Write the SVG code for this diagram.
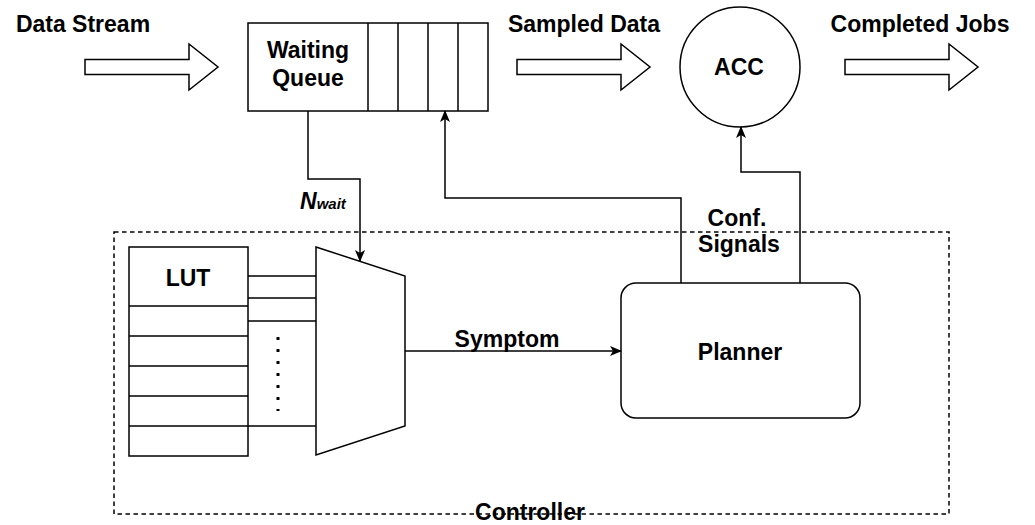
<svg xmlns="http://www.w3.org/2000/svg" width="1035" height="525" viewBox="0 0 1035 525">
  <style>
    .ln { fill: none; stroke: #000; stroke-width: 1.5; }
    .box { fill: #fff; stroke: #000; stroke-width: 1.5; }
    .lbl { font-family: "Liberation Sans", Arial, sans-serif; font-weight: bold; font-size: 23px; fill: #000; text-anchor: middle; }
    .sub { font-family: "Liberation Sans", Arial, sans-serif; font-weight: bold; font-style: italic; fill: #000; text-anchor: start; }
  </style>
  <defs>
    <marker id="arr" viewBox="0 0 12 12" refX="11" refY="6" markerWidth="12" markerHeight="12" markerUnits="userSpaceOnUse" orient="auto">
      <path d="M0,1 L12,6 L0,11 L3,6 z" fill="#000"/>
    </marker>
    <!-- block arrow used for the data flow -->
    <path id="flow" d="M0,-7.5 H104 V-23 L133,0 L104,23 V7.5 H0 Z" fill="#fff" stroke="#000" stroke-width="1.5"/>
  </defs>

  <rect width="1035" height="525" fill="#fff"/>

  <!-- controller boundary -->
  <g id="controller">
    <rect x="114" y="232" width="835" height="282" fill="none" stroke="#000" stroke-width="1.5" stroke-dasharray="4.5 3.5"/>
    <text class="lbl" x="530" y="520">Controller</text>
  </g>

  <!-- flow arrows with captions -->
  <g id="data-stream">
    <use href="#flow" x="85" y="67"/>
    <text class="lbl" x="83" y="32">Data Stream</text>
  </g>
  <g id="sampled-data">
    <use href="#flow" x="517" y="67"/>
    <text class="lbl" x="584" y="32">Sampled Data</text>
  </g>
  <g id="completed-jobs">
    <use href="#flow" x="845" y="67"/>
    <text class="lbl" x="920" y="32">Completed Jobs</text>
  </g>

  <!-- waiting queue -->
  <g id="waiting-queue">
    <rect class="box" x="248" y="23" width="240" height="88"/>
    <path class="ln" d="M368,23 V111 M398,23 V111 M428,23 V111 M458,23 V111"/>
    <text class="lbl" x="308" y="58">Waiting</text>
    <text class="lbl" x="308" y="86">Queue</text>
  </g>

  <!-- accelerator -->
  <g id="acc">
    <circle class="box" cx="740" cy="67" r="60"/>
    <text class="lbl" x="739" y="75">ACC</text>
  </g>

  <!-- lookup table -->
  <g id="lut">
    <rect class="box" x="129" y="247" width="119" height="209"/>
    <path class="ln" d="M129,306 H248 M129,336 H248 M129,366 H248 M129,396 H248 M129,426 H248"/>
    <text class="lbl" x="188" y="286">LUT</text>
  </g>

  <!-- multiplexer -->
  <g id="mux">
    <path class="box" d="M316,247 L405,276 V426 L316,455 Z"/>
  </g>

  <!-- planner -->
  <g id="planner">
    <rect class="box" x="621" y="283" width="239" height="135" rx="15" ry="15"/>
    <text class="lbl" x="740" y="360">Planner</text>
  </g>

  <!-- connectors -->
  <g id="connectors">
    <path class="ln" d="M248,276 H316 M248,298 H316 M248,321 H316 M248,426 H316"/>
    <line x1="278" y1="337" x2="278" y2="411" stroke="#000" stroke-width="3" stroke-dasharray="3 9"/>
    <path class="ln" d="M308,111 V179 H360 V261" marker-end="url(#arr)"/>
    <path class="ln" d="M405,351 H621" marker-end="url(#arr)"/>
    <path class="ln" d="M681,283 V198 H445 V111" marker-end="url(#arr)"/>
    <path class="ln" d="M800,283 V172 H741 V127" marker-end="url(#arr)"/>
    <text class="sub" x="300" y="209" font-size="23">N<tspan font-size="15">wait</tspan></text>
    <text class="lbl" x="507" y="347">Symptom</text>
    <text class="lbl" x="737" y="226">Conf.</text>
    <text class="lbl" x="739" y="252">Signals</text>
  </g>
</svg>
